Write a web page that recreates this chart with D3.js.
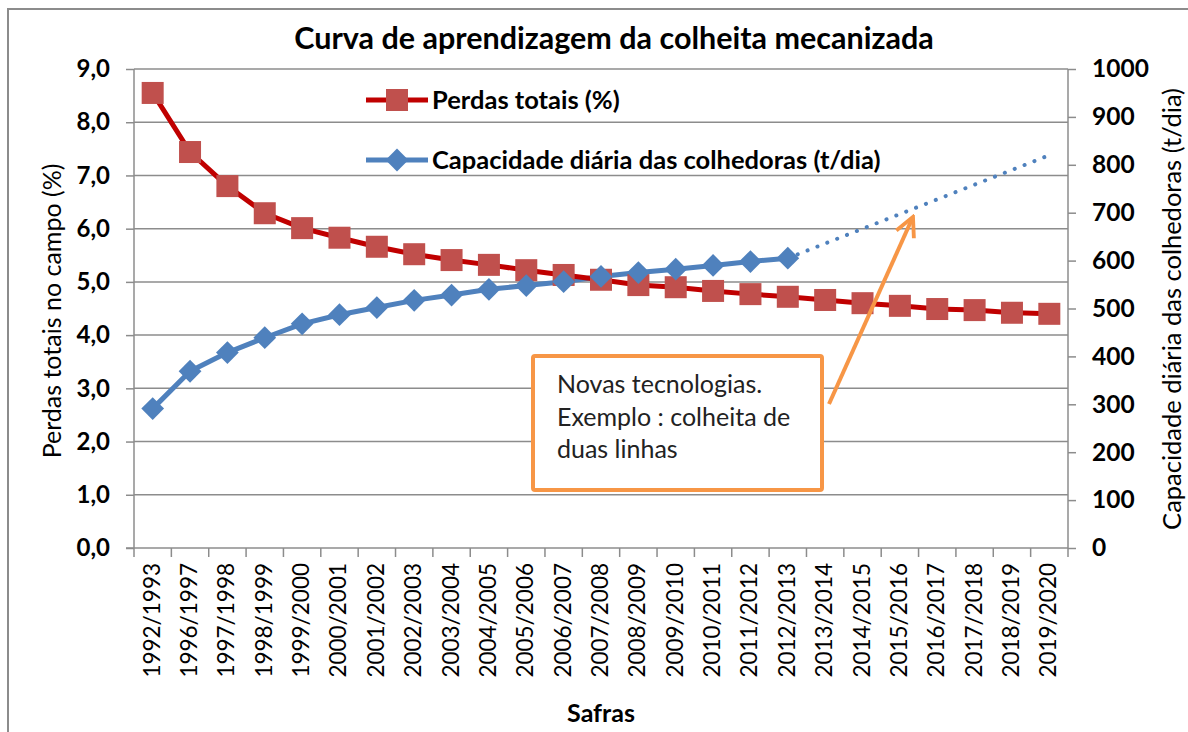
<html>
<head>
    <meta charset="UTF-8">
    <title>Curva de aprendizagem</title>
    <style>
        body { margin: 0; background: #fff; }
        svg { font-family: Lato, "Open Sans", sans-serif; }
        .grid line { stroke: #8c8c8c; stroke-width: 1.5; }
        .axis path, .axis line { stroke: #8c8c8c; stroke-width: 1.5; }
        .axis text { fill: #000; }
    </style>
    <script src="https://d3js.org/d3.v7.min.js"></script>
</head>
<body>
<script>
    // data
    const safras = ["1992/1993", "1996/1997", "1997/1998", "1998/1999", "1999/2000",
        "2000/2001", "2001/2002", "2002/2003", "2003/2004", "2004/2005", "2005/2006",
        "2006/2007", "2007/2008", "2008/2009", "2009/2010", "2010/2011", "2011/2012",
        "2012/2013", "2013/2014", "2014/2015", "2015/2016", "2016/2017", "2017/2018",
        "2018/2019", "2019/2020"]
    const perdas = [8.55, 7.44, 6.80, 6.29, 6.01, 5.83, 5.66, 5.52, 5.41, 5.32, 5.22,
        5.13, 5.04, 4.94, 4.90, 4.83, 4.77, 4.72, 4.66, 4.60, 4.55, 4.49, 4.47, 4.42, 4.40]
    const capacidade = [291, 369, 408, 439, 468, 487, 502, 517, 528, 540, 548,
        556, 567, 575, 582, 590, 598, 605]
    const projecaoSafras = ["2012/2013", "2019/2020"]
    const projecao = [605, 820]
    const leftTicks = [0, 1, 2, 3, 4, 5, 6, 7, 8, 9]
    const rightTicks = [0, 100, 200, 300, 400, 500, 600, 700, 800, 900, 1000]
    const nota = ["Novas tecnologias.", "Exemplo : colheita de", "duas linhas"]

    const W = 1188, H = 732
    const plot = { left: 134, right: 1068, top: 69, bottom: 548 }

    const svg = d3.select("body").append("svg")
        .attr("width", W)
        .attr("height", H)

    // outer chart border (cropped on right and bottom)
    svg.append("rect")
        .attr("x", 8).attr("y", 9)
        .attr("width", W + 20).attr("height", H + 20)
        .attr("fill", "#fff")
        .attr("stroke", "#8c8c8c")
        .attr("stroke-width", 2)

    const x = d3.scaleBand()
        .domain(safras)
        .range([plot.left, plot.right])

    const yL = d3.scaleLinear().domain([0, 9]).range([plot.bottom, plot.top])
    const yR = d3.scaleLinear().domain([0, 1000]).range([plot.bottom, plot.top])

    const cx = d => x(d) + x.bandwidth() / 2

    // gridlines
    svg.append("g")
        .attr("class", "grid")
        .selectAll("line")
        .data(leftTicks.slice(1))
        .join("line")
        .attr("x1", plot.left).attr("x2", plot.right)
        .attr("y1", d => yL(d)).attr("y2", d => yL(d))

    // left axis
    svg.append("g")
        .attr("class", "axis")
        .attr("transform", "translate(" + plot.left + ",0)")
        .call(d3.axisLeft(yL)
            .tickValues(leftTicks)
            .tickSize(8)
            .tickPadding(16)
            .tickFormat(d => d3.format(".1f")(d).replace(".", ",")))
        .call(g => g.select(".domain").attr("d", "M0," + plot.bottom + "V" + plot.top))
        .selectAll("text")
        .attr("font-size", 24)
        .attr("font-weight", "bold")
        .attr("font-family", "Lato")

    // right axis
    svg.append("g")
        .attr("class", "axis")
        .attr("transform", "translate(" + plot.right + ",0)")
        .call(d3.axisRight(yR)
            .tickValues(rightTicks)
            .tickSize(8)
            .tickPadding(16)
            .tickFormat(d3.format("d")))
        .call(g => g.select(".domain").attr("d", "M0," + plot.bottom + "V" + plot.top))
        .selectAll("text")
        .attr("font-size", 24.5)
        .attr("font-weight", "bold")
        .attr("font-family", "Lato")

    // bottom axis: ticks on band boundaries
    const bottom = svg.append("g")
        .attr("class", "axis")
        .attr("transform", "translate(0," + plot.bottom + ")")
    bottom.append("line")
        .attr("x1", plot.left - 8).attr("x2", plot.right)
        .attr("y1", 0).attr("y2", 0)
    bottom.selectAll(".tk")
        .data(safras.concat(["end"]))
        .join("line")
        .attr("class", "tk")
        .attr("x1", (d, i) => plot.left + i * x.step())
        .attr("x2", (d, i) => plot.left + i * x.step())
        .attr("y1", 0).attr("y2", 9)
    bottom.selectAll("text")
        .data(safras)
        .join("text")
        .attr("transform", d => "translate(" + (cx(d) + 7) + ",15) rotate(-90)")
        .attr("text-anchor", "end")
        .attr("font-size", 22.5)
        .attr("font-family", "Lato")
        .attr("fill", "#000")
        .text(d => d)

    // series: Capacidade (blue)
    const blue = "#4f81bd"
    const lineB = d3.line().x((d, i) => cx(safras[i])).y(d => yR(d))
    svg.append("path")
        .attr("d", lineB(capacidade))
        .attr("fill", "none")
        .attr("stroke", blue)
        .attr("stroke-width", 5)
        .attr("stroke-linejoin", "round")

    // dotted projection
    svg.append("path")
        .attr("d", d3.line().x((d, i) => cx(projecaoSafras[i])).y(d => yR(d))(projecao))
        .attr("fill", "none")
        .attr("stroke", blue)
        .attr("stroke-width", 4)
        .attr("stroke-linecap", "round")
        .attr("stroke-dasharray", "0.1 10.5")

    // series: Perdas (red)
    const lineR = d3.line().x((d, i) => cx(safras[i])).y(d => yL(d))
    svg.append("path")
        .attr("d", lineR(perdas))
        .attr("fill", "none")
        .attr("stroke", "#c00000")
        .attr("stroke-width", 5)
        .attr("stroke-linejoin", "round")

    svg.append("g").selectAll("rect")
        .data(perdas)
        .join("rect")
        .attr("x", (d, i) => cx(safras[i]) - 11)
        .attr("y", d => yL(d) - 11)
        .attr("width", 22).attr("height", 22)
        .attr("fill", "#c0504d")

    const diamond = d3.symbol().type(d3.symbolDiamond2).size(330)
    svg.append("g").selectAll("path")
        .data(capacidade)
        .join("path")
        .attr("d", diamond)
        .attr("transform", (d, i) => "translate(" + cx(safras[i]) + "," + yR(d) + ")")
        .attr("fill", blue)

    // title
    svg.append("text")
        .attr("x", 614).attr("y", 49)
        .attr("text-anchor", "middle")
        .attr("font-size", 30.5)
        .attr("font-weight", "bold")
        .attr("font-family", "Lato")
        .text("Curva de aprendizagem da colheita mecanizada")

    // legend
    const legend = svg.append("g")
    legend.append("line")
        .attr("x1", 366).attr("x2", 428).attr("y1", 100).attr("y2", 100)
        .attr("stroke", "#c00000").attr("stroke-width", 5)
    legend.append("rect")
        .attr("x", 386).attr("y", 89).attr("width", 22).attr("height", 22)
        .attr("fill", "#c0504d")
    legend.append("text")
        .attr("x", 432).attr("y", 109)
        .attr("font-size", 25.5).attr("font-weight", "bold")
        .text("Perdas totais (%)")
    legend.append("line")
        .attr("x1", 366).attr("x2", 428).attr("y1", 160).attr("y2", 160)
        .attr("stroke", blue).attr("stroke-width", 5)
    legend.append("path")
        .attr("d", diamond)
        .attr("transform", "translate(397,160)")
        .attr("fill", blue)
    legend.append("text")
        .attr("x", 432).attr("y", 169)
        .attr("font-size", 25.5).attr("font-weight", "bold")
        .text("Capacidade diária das colhedoras (t/dia)")

    // axis titles
    svg.append("text")
        .attr("transform", "translate(61,311) rotate(-90)")
        .attr("text-anchor", "middle")
        .attr("font-size", 25)
        .text("Perdas totais no campo (%)")
    svg.append("text")
        .attr("transform", "translate(1181,309) rotate(-90)")
        .attr("text-anchor", "middle")
        .attr("font-size", 25.5)
        .text("Capacidade diária das colhedoras (t/dia)")
    svg.append("text")
        .attr("x", 601).attr("y", 722)
        .attr("text-anchor", "middle")
        .attr("font-size", 25).attr("font-weight", "bold")
        .text("Safras")

    // annotation
    const orange = "#f79646"
    svg.append("defs").append("marker")
        .attr("id", "arrow")
        .attr("viewBox", "0 0 10 10")
        .attr("refX", 8).attr("refY", 5)
        .attr("markerWidth", 6).attr("markerHeight", 6)
        .attr("orient", "auto")
        .append("path")
        .attr("d", "M1,1 L9,5 L1,9")
        .attr("fill", "none")
        .attr("stroke", orange)
        .attr("stroke-width", 1.6)
    svg.append("line")
        .attr("x1", 829).attr("y1", 404)
        .attr("x2", 912).attr("y2", 219)
        .attr("stroke", orange)
        .attr("stroke-width", 4)
        .attr("marker-end", "url(#arrow)")

    svg.append("rect")
        .attr("x", 533).attr("y", 356)
        .attr("width", 289).attr("height", 134)
        .attr("rx", 2)
        .attr("fill", "#fff")
        .attr("stroke", orange)
        .attr("stroke-width", 4)
    svg.append("text")
        .attr("font-size", 25)
        .attr("fill", "#222")
        .selectAll("tspan")
        .data(nota)
        .join("tspan")
        .attr("x", 557)
        .attr("y", (d, i) => 393 + i * 32.5)
        .text(d => d)
</script>
</body>
</html>
